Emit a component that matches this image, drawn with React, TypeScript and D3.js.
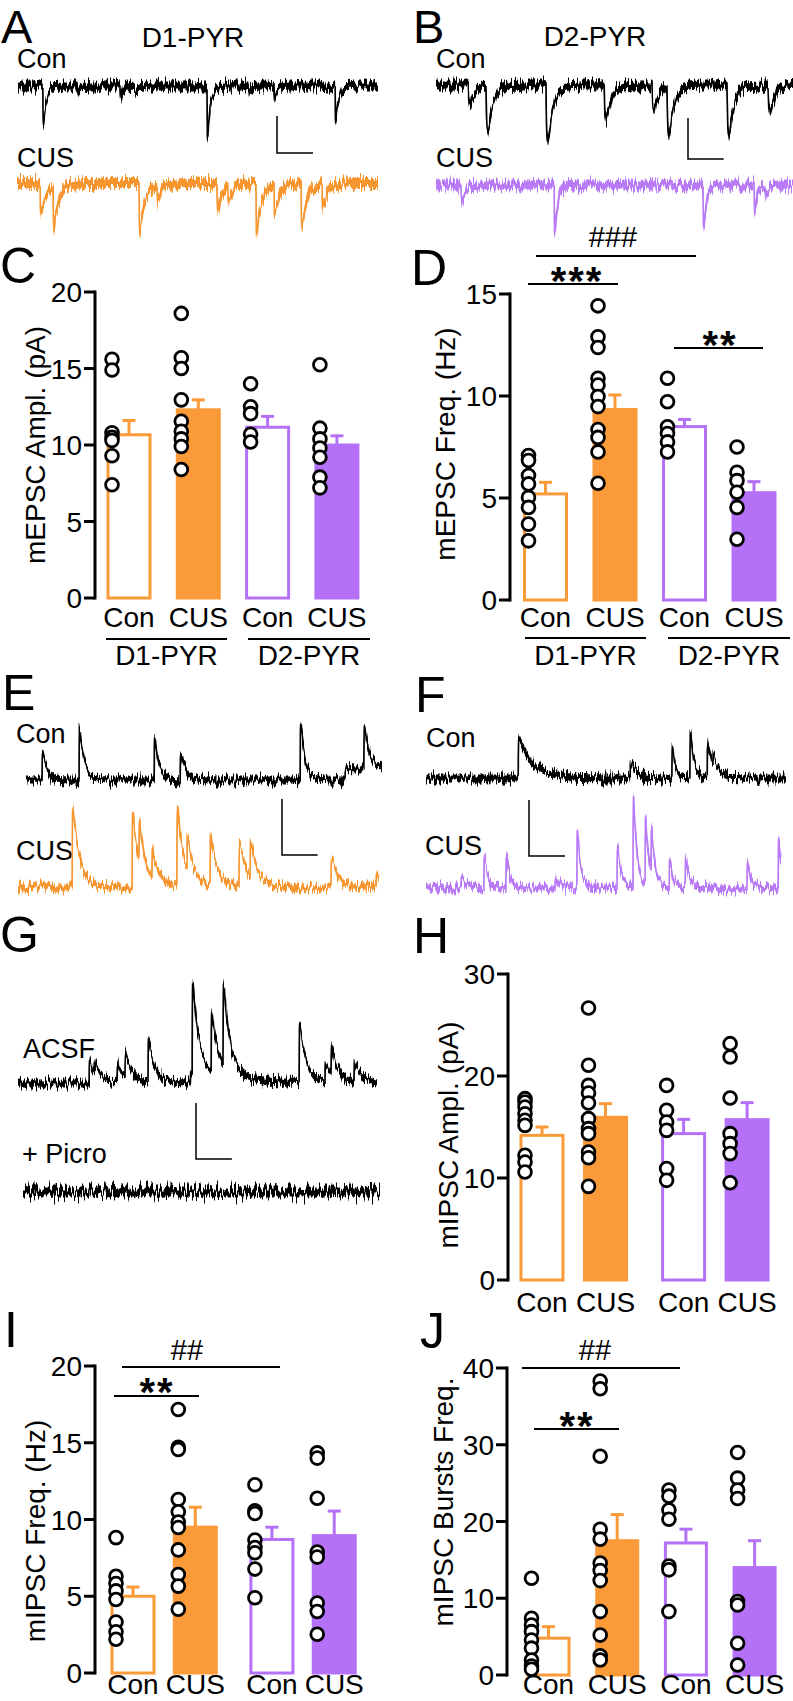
import React from 'react';
import * as d3 from 'd3';

const FONT = '"Liberation Sans", Arial, Helvetica, sans-serif';
const ORANGE = '#fa9a38';
const PURPLE = '#b470f7';
const ORANGE_TRACE = '#f7962f';
const PURPLE_TRACE = '#b97af6';

// ---------- bar chart data ----------
const conditionLabels = ['Con', 'CUS', 'Con', 'CUS'];
const cellTypeLabels = ['D1-PYR', 'D2-PYR'];
const barColors = [ORANGE, ORANGE, PURPLE, PURPLE];
const barFilled = [false, true, false, true];

// C: mEPSC amplitude (pA)
const mEPSCAmpMean = [10.67, 12.3, 11.16, 10.0];
const mEPSCAmpSEM = [0.93, 0.65, 0.71, 0.6];
const mEPSCAmpD1Con = [15.6, 14.9, 10.8, 10.5, 10.3, 9.3, 7.4];
const mEPSCAmpD1CUS = [18.6, 15.7, 15.0, 12.95, 11.55, 10.9, 10.4, 9.9, 8.4];
const mEPSCAmpD2Con = [14.0, 12.5, 12.05, 10.7, 10.2];
const mEPSCAmpD2CUS = [15.25, 11.1, 10.4, 9.8, 9.2, 7.9, 7.2];

// D: mEPSC frequency (Hz)
const mEPSCFreqMean = [5.2, 9.34, 8.5, 5.26];
const mEPSCFreqSEM = [0.57, 0.71, 0.35, 0.54];
const mEPSCFreqD1Con = [7.08, 6.84, 6.1, 5.69, 5.03, 4.54, 3.72, 2.9];
const mEPSCFreqD1CUS = [14.42, 12.9, 12.38, 10.87, 10.54, 9.97, 9.48, 8.36, 7.97, 7.26, 5.72];
const mEPSCFreqD2Con = [10.87, 9.72, 8.49, 8.16, 7.75, 7.26];
const mEPSCFreqD2CUS = [7.5, 6.26, 5.85, 5.28, 4.54, 2.98];

// H: mIPSC amplitude (pA)
const mIPSCAmpMean = [14.18, 15.95, 14.35, 15.72];
const mIPSCAmpSEM = [0.82, 1.34, 1.4, 1.67];
const mIPSCAmpD1Con = [17.78, 17.45, 16.96, 16.3, 15.65, 15.16, 12.22, 11.57, 10.59];
const mIPSCAmpD1CUS = [26.67, 21.05, 19.08, 18.33, 17.35, 15.82, 14.84, 14.35, 12.55, 11.99, 9.18];
const mIPSCAmpD2Con = [19.08, 16.63, 15.49, 14.67, 10.92, 9.77];
const mIPSCAmpD2CUS = [23.17, 21.86, 17.84, 14.35, 13.37, 12.39, 9.54];

// I: mIPSC frequency (Hz)
const mIPSCFreqMean = [5.0, 9.5, 8.7, 8.95];
const mIPSCFreqSEM = [0.6, 1.3, 0.8, 1.6];
const mIPSCFreqD1Con = [8.82, 6.3, 5.83, 5.35, 4.79, 3.32, 2.69, 2.2];
const mIPSCFreqD1CUS = [17.17, 14.71, 14.56, 11.3, 10.5, 9.83, 9.48, 8.02, 6.42, 5.66, 4.16];
const mIPSCFreqD2Con = [12.26, 10.57, 10.39, 8.66, 8.18, 7.83, 6.77, 4.9];
const mIPSCFreqD2CUS = [14.34, 14.0, 11.38, 7.88, 7.55, 4.56, 4.01, 2.52];

// J: mIPSC bursts frequency
const burstMean = [4.8, 17.5, 17.2, 14.0];
const burstSEM = [1.5, 3.4, 1.8, 3.5];
const burstD1Con = [12.6, 7.4, 6.5, 5.65, 4.57, 3.5, 1.96, 1.17, 0.74];
const burstD1CUS = [38.3, 37.3, 28.5, 19.0, 17.7, 14.6, 13.6, 12.3, 8.26, 5.2, 2.5, 1.96];
const burstD2Con = [24.1, 23.3, 21.5, 20.3, 14.2, 13.7, 8.26];
const burstD2CUS = [29.0, 25.65, 24.1, 23.0, 9.57, 9.13, 4.13, 1.3];

// ---------- trace data: [time ms, amplitude pA, decay ms] ----------
const DURATION_MS = 1000;
const SCALE_MS = 100;
const SCALE_PA = 20;
const traceA_Con = [[69, 21, 8], [164, 3, 6], [283, 6, 8], [325, 3, 6], [525, 27, 8], [640, 2.5, 6], [711, 6.5, 8], [881, 19.5, 8]];
const traceA_CUS = [[64, 17.5, 14], [100, 23, 14], [338, 25.5, 14], [388, 8.5, 14], [554, 14, 14], [584, 8.5, 14], [662, 27, 14], [712, 16.5, 14], [787, 24, 14], [845, 13.5, 14]];
const traceB_Con = [[90, 9, 14], [140, 22.5, 14], [308, 28.5, 14], [471, 17.5, 14], [605, 12.5, 14], [647, 23.5, 14], [815, 24, 14], [930, 13.5, 14]];
const traceB_CUS = [[70, 9, 8], [331, 22.5, 8], [748, 21, 8], [891, 12, 8], [922, 5.5, 8]];
const traceE_Con = [[45, 10.2, 12], [149, 19.2, 12], [360, 15, 12], [433, 9, 14], [770, 20, 12], [896, 4, 3000], [949, 15, 14]];
const traceE_CUS = [[150, 29, 18], [316, 26, 18], [335, 14, 18], [371, 10.5, 18], [440, 27.5, 18], [468, 12.2, 18], [532, 18.2, 18], [612, 15.8, 18], [643, 14.7, 18], [867, 10.4, 18], [992, 5.2, 18]];
const traceF_Con = [[256, 14.2, 40], [567, 6.3, 15], [683, 11.7, 8], [733, 16.2, 10], [781, 12.2, 15], [797, 4.8, 15]];
const traceF_CUS = [[99, 4, 10], [163, 11, 10], [225, 11, 10], [363, 4, 10], [425, 20, 10], [538, 15, 10], [583, 32, 10], [617, 24, 10], [634, 16.5, 10], [685, 9, 10], [730, 11, 10], [904, 9, 10], [992, 17, 10]];
const traceG_ACSF = [[198, 7, 18], [212, 5, 18], [276, 7, 18], [298, 9, 18], [362, 14.6, 18], [480, 4, 150], [485, 31, 18], [538, 21, 18], [571, 29.5, 18], [783, 20.4, 18], [855, 7, 18], [872, 9.8, 18], [936, 7.5, 18]];
const traceG_Picro: number[][] = [];

// ---------- helpers ----------
function kernel(dt: number, tr: number, td: number) {
  const tp = ((tr * td) / (td - tr)) * Math.log(td / tr);
  const norm = Math.exp(-tp / td) - Math.exp(-tp / tr);
  return (Math.exp(-dt / td) - Math.exp(-dt / tr)) / norm;
}

type TraceSpec = {
  x0: number; x1: number; base: number; dir: number; events: number[][];
  color: string; half: number; px20: number; tauR: number; filter: string;
};

function Trace({ s }: { s: TraceSpec }) {
  const tx = d3.scaleLinear().domain([0, DURATION_MS]).range([s.x0, s.x1]);
  const ay = d3.scaleLinear().domain([0, SCALE_PA]).range([0, s.px20]);
  const samples = d3.range(0, DURATION_MS + 0.01, 0.5).map((t) => {
    let v = 0;
    for (const [te, amp, td] of s.events) {
      const dt = t - te;
      if (dt < 0) continue;
      v += amp * kernel(dt, s.tauR, td);
    }
    return { t, y: s.base - s.dir * ay(v) };
  });
  const area = d3.area<{ t: number; y: number }>().x((d) => tx(d.t)).y0((d) => d.y - s.half).y1((d) => d.y + s.half);
  const line = d3.line<{ t: number; y: number }>().x((d) => tx(d.t)).y((d) => d.y);
  return (
    <g filter={`url(#${s.filter})`}>
      <path d={area(samples) || ''} fill={s.color} />
      <path d={line(samples) || ''} fill="none" stroke={s.color} strokeWidth={1.7} />
    </g>
  );
}

function ScaleBar({ x, y, px20, x0, x1 }: { x: number; y: number; px20: number; x0: number; x1: number }) {
  const tx = d3.scaleLinear().domain([0, DURATION_MS]).range([0, x1 - x0]);
  const ay = d3.scaleLinear().domain([0, SCALE_PA]).range([0, px20]);
  return (
    <path d={`M${x},${y - ay(SCALE_PA)}V${y}H${x + tx(SCALE_MS)}`} fill="none" stroke="#000" strokeWidth={1.5} />
  );
}

type BarCfg = {
  axisX: number; y0: number; yTop: number; yMax: number; ticks: number[];
  c0: number; unit: number; slots: number[]; barW: number; xLabelY: number;
  title: string; titleX: number; titleY: number;
  groupLineY?: number; groupLines?: number[][]; groupLabelY?: number;
  sig?: { x1: number; x2: number; y: number; label: string; lx: number; ly: number; star: boolean }[];
};

function BarPanel({ cfg, means, sems, points }: { cfg: BarCfg; means: number[]; sems: number[]; points: number[][] }) {
  const y = d3.scaleLinear().domain([0, cfg.yMax]).range([cfg.y0, cfg.yTop]);
  const xs = d3.scaleLinear().domain([0, 1]).range([cfg.c0, cfg.c0 + cfg.unit]);
  const w = cfg.barW;
  return (
    <g>
      {means.map((m, i) => {
        const cx = xs(cfg.slots[i]);
        const c = barColors[i];
        const top = y(m);
        const errTop = y(m + sems[i]);
        return (
          <g key={i}>
            <line x1={cx} x2={cx} y1={top} y2={errTop} stroke={c} strokeWidth={3} />
            <line x1={cx - 6.5} x2={cx + 6.5} y1={errTop} y2={errTop} stroke={c} strokeWidth={3} />
            {barFilled[i] ? (
              <rect x={cx - w / 2} y={top - 1.5} width={w} height={y(0) - top + 3} fill={c} />
            ) : (
              <rect x={cx - w / 2 + 1.5} y={top} width={w - 3} height={y(0) - top} fill="#fff" stroke={c} strokeWidth={3} />
            )}
            {points[i].map((v, j) => (
              <circle key={j} cx={cx - 17} cy={y(v)} r={6.4} fill="#fff" stroke="#000" strokeWidth={2.8} />
            ))}
            <text x={cx} y={cfg.xLabelY} textAnchor="middle" fontSize={28}>{conditionLabels[i]}</text>
          </g>
        );
      })}
      <line x1={cfg.axisX} x2={cfg.axisX} y1={y(0) + 1.5} y2={y(cfg.yMax) - 1.5} stroke="#000" strokeWidth={3} />
      {cfg.ticks.map((t) => (
        <g key={t}>
          <line x1={cfg.axisX - 11} x2={cfg.axisX} y1={y(t)} y2={y(t)} stroke="#000" strokeWidth={3} />
          <text x={cfg.axisX - 13} y={y(t) + 10} textAnchor="end" fontSize={28}>{t}</text>
        </g>
      ))}
      <text transform={`translate(${cfg.titleX},${cfg.titleY}) rotate(-90)`} textAnchor="middle" fontSize={28}>{cfg.title}</text>
      {cfg.groupLines && cfg.groupLines.map((g, k) => (
        <g key={k}>
          <line x1={g[0]} x2={g[1]} y1={cfg.groupLineY} y2={cfg.groupLineY} stroke="#000" strokeWidth={2} />
          <text x={(g[0] + g[1]) / 2} y={cfg.groupLabelY} textAnchor="middle" fontSize={28}>{cellTypeLabels[k]}</text>
        </g>
      ))}
      {cfg.sig && cfg.sig.map((s, k) => (
        <g key={k}>
          <line x1={s.x1} x2={s.x2} y1={s.y} y2={s.y} stroke="#000" strokeWidth={2} />
          <text x={s.lx} y={s.ly} textAnchor="middle" fontSize={s.star ? 40 : 29} fontWeight={s.star ? 'bold' : 'normal'} letterSpacing={s.star ? 2 : 0}>{s.label}</text>
        </g>
      ))}
    </g>
  );
}

// ---------- layouts ----------
const cfgC: BarCfg = {
  axisX: 95, y0: 598, yTop: 292, yMax: 20, ticks: [0, 5, 10, 15, 20], c0: 129, unit: 69.3, slots: [0, 1, 2, 3],
  barW: 45, xLabelY: 627, title: 'mEPSC Ampl. (pA)', titleX: 45, titleY: 445,
  groupLineY: 639, groupLines: [[106, 227], [248, 370]], groupLabelY: 665,
};
const cfgD: BarCfg = {
  axisX: 510, y0: 600, yTop: 294, yMax: 15, ticks: [0, 5, 10, 15], c0: 545.5, unit: 69.5, slots: [0, 1, 2, 3],
  barW: 45, xLabelY: 627, title: 'mEPSC Freq. (Hz)', titleX: 455, titleY: 444,
  groupLineY: 638, groupLines: [[525, 646], [668, 790]], groupLabelY: 665,
  sig: [
    { x1: 536, x2: 696, y: 256, label: '###', lx: 613, ly: 247, star: false },
    { x1: 528, x2: 618, y: 284, label: '***', lx: 577, ly: 295, star: true },
    { x1: 674, x2: 763, y: 348, label: '**', lx: 720, ly: 359, star: true },
  ],
};
const cfgH: BarCfg = {
  axisX: 508, y0: 1280, yTop: 974, yMax: 30, ticks: [0, 10, 20, 30], c0: 542, unit: 63.5, slots: [0, 1, 2.23, 3.23],
  barW: 45, xLabelY: 1312, title: 'mIPSC Ampl. (pA)', titleX: 458, titleY: 1135,
};
const cfgI: BarCfg = {
  axisX: 95, y0: 1673, yTop: 1366, yMax: 20, ticks: [0, 5, 10, 15, 20], c0: 133, unit: 62.3, slots: [0, 1, 2.23, 3.23],
  barW: 45, xLabelY: 1694, title: 'mIPSC Freq. (Hz)', titleX: 45, titleY: 1531,
  sig: [
    { x1: 122, x2: 280, y: 1367, label: '##', lx: 187, ly: 1360, star: false },
    { x1: 114, x2: 199, y: 1396, label: '**', lx: 157, ly: 1406, star: true },
  ],
};
const cfgJ: BarCfg = {
  axisX: 507, y0: 1675, yTop: 1368, yMax: 40, ticks: [0, 10, 20, 30, 40], c0: 548.5, unit: 68.7, slots: [0, 1, 2, 3],
  barW: 44, xLabelY: 1694, title: 'mIPSC Bursts Freq.', titleX: 453, titleY: 1502,
  sig: [
    { x1: 522, x2: 680, y: 1368, label: '##', lx: 595, ly: 1360, star: false },
    { x1: 534, x2: 619, y: 1429, label: '**', lx: 577, ly: 1440, star: true },
  ],
};

const traces: TraceSpec[] = [
  { x0: 18, x1: 378, base: 86, dir: -1, events: traceA_Con, color: '#000', half: 4.5, px20: 37, tauR: 0.6, filter: 'jit' },
  { x0: 17, x1: 378, base: 183, dir: -1, events: traceA_CUS, color: ORANGE_TRACE, half: 5, px20: 37, tauR: 0.8, filter: 'jit' },
  { x0: 436, x1: 793, base: 85, dir: -1, events: traceB_Con, color: '#000', half: 4.5, px20: 41, tauR: 2.5, filter: 'jit' },
  { x0: 436, x1: 793, base: 185, dir: -1, events: traceB_CUS, color: PURPLE_TRACE, half: 4.5, px20: 41, tauR: 0.8, filter: 'jit' },
  { x0: 26, x1: 382, base: 780, dir: 1, events: traceE_Con, color: '#000', half: 3.5, px20: 56, tauR: 0.6, filter: 'jit' },
  { x0: 18, x1: 379, base: 887, dir: 1, events: traceE_CUS, color: ORANGE_TRACE, half: 3.5, px20: 56, tauR: 0.6, filter: 'jit' },
  { x0: 426, x1: 786, base: 778, dir: 1, events: traceF_Con, color: '#000', half: 3.5, px20: 56, tauR: 0.6, filter: 'jit' },
  { x0: 426, x1: 781, base: 888, dir: 1, events: traceF_CUS, color: PURPLE_TRACE, half: 3.5, px20: 56, tauR: 0.6, filter: 'jit' },
  { x0: 18, x1: 377, base: 1083, dir: 1, events: traceG_ACSF, color: '#000', half: 3.5, px20: 56, tauR: 0.6, filter: 'jit' },
  { x0: 23, x1: 380, base: 1192, dir: 1, events: traceG_Picro, color: '#000', half: 4.5, px20: 56, tauR: 0.6, filter: 'jit2' },
];

const scaleBars = [
  { x: 277, y: 153, px20: 37, x0: 18, x1: 378 },
  { x: 688, y: 159, px20: 41, x0: 436, x1: 793 },
  { x: 282, y: 855, px20: 56, x0: 26, x1: 382 },
  { x: 529, y: 856, px20: 56, x0: 426, x1: 786 },
  { x: 196, y: 1159, px20: 56, x0: 18, x1: 377 },
];

const panelLetters = [
  { t: 'A', x: 1, y: 43, s: 47 }, { t: 'B', x: 413, y: 43, s: 47 }, { t: 'C', x: 0, y: 283, s: 50 }, { t: 'D', x: 411, y: 285, s: 50 },
  { t: 'E', x: 2, y: 710, s: 50 }, { t: 'F', x: 415, y: 712, s: 50 }, { t: 'G', x: 0, y: 952, s: 50 }, { t: 'H', x: 413, y: 953, s: 50 },
  { t: 'I', x: 4, y: 1347, s: 50 }, { t: 'J', x: 420, y: 1348, s: 50 },
];

const traceLabels = [
  { t: 'Con', x: 17, y: 68 }, { t: 'CUS', x: 17, y: 167 }, { t: 'Con', x: 436, y: 68 }, { t: 'CUS', x: 436, y: 167 },
  { t: 'Con', x: 16, y: 743 }, { t: 'CUS', x: 16, y: 860 }, { t: 'Con', x: 426, y: 747 }, { t: 'CUS', x: 425, y: 855 },
  { t: 'ACSF', x: 23, y: 1058 }, { t: '+ Picro', x: 22, y: 1163 },
];

export default function App() {
  return (
    <svg width={793} height={1701} viewBox="0 0 793 1701" style={{ position: 'absolute', left: 0, top: 0, background: '#fff' }} fontFamily={FONT}>
      <defs>
        <filter id="jit" filterUnits="userSpaceOnUse" x={0} y={0} width={793} height={1701} colorInterpolationFilters="sRGB">
          <feTurbulence type="fractalNoise" baseFrequency="0.6 0.04" numOctaves={2} seed={4} result="n" />
          <feColorMatrix in="n" type="matrix" values="0 0 0 0 0.5  0 1.7 0 0 -0.35  0 0 0 0 0  0 0 0 0 1" result="m" />
          <feDisplacementMap in="SourceGraphic" in2="m" scale={11} xChannelSelector="R" yChannelSelector="G" />
        </filter>
        <filter id="jit2" filterUnits="userSpaceOnUse" x={0} y={0} width={793} height={1701} colorInterpolationFilters="sRGB">
          <feTurbulence type="fractalNoise" baseFrequency="0.5 0.03" numOctaves={3} seed={9} result="n" />
          <feColorMatrix in="n" type="matrix" values="0 0 0 0 0.5  0 1.8 0 0 -0.4  0 0 0 0 0  0 0 0 0 1" result="m" />
          <feDisplacementMap in="SourceGraphic" in2="m" scale={15} xChannelSelector="R" yChannelSelector="G" />
        </filter>
      </defs>
      <rect x={0} y={0} width={793} height={1701} fill="#fff" />

      {panelLetters.map((p) => (
        <text key={p.t} x={p.x} y={p.y} fontSize={p.s}>{p.t}</text>
      ))}
      <text x={193} y={47} textAnchor="middle" fontSize={28}>{cellTypeLabels[0]}</text>
      <text x={595} y={46} textAnchor="middle" fontSize={28}>{cellTypeLabels[1]}</text>
      {traceLabels.map((l, i) => (
        <text key={i} x={l.x} y={l.y} fontSize={27}>{l.t}</text>
      ))}

      {traces.map((s, i) => <Trace key={i} s={s} />)}
      {scaleBars.map((b, i) => <ScaleBar key={i} {...b} />)}

      <BarPanel cfg={cfgC} means={mEPSCAmpMean} sems={mEPSCAmpSEM} points={[mEPSCAmpD1Con, mEPSCAmpD1CUS, mEPSCAmpD2Con, mEPSCAmpD2CUS]} />
      <BarPanel cfg={cfgD} means={mEPSCFreqMean} sems={mEPSCFreqSEM} points={[mEPSCFreqD1Con, mEPSCFreqD1CUS, mEPSCFreqD2Con, mEPSCFreqD2CUS]} />
      <BarPanel cfg={cfgH} means={mIPSCAmpMean} sems={mIPSCAmpSEM} points={[mIPSCAmpD1Con, mIPSCAmpD1CUS, mIPSCAmpD2Con, mIPSCAmpD2CUS]} />
      <BarPanel cfg={cfgI} means={mIPSCFreqMean} sems={mIPSCFreqSEM} points={[mIPSCFreqD1Con, mIPSCFreqD1CUS, mIPSCFreqD2Con, mIPSCFreqD2CUS]} />
      <BarPanel cfg={cfgJ} means={burstMean} sems={burstSEM} points={[burstD1Con, burstD1CUS, burstD2Con, burstD2CUS]} />
    </svg>
  );
}
